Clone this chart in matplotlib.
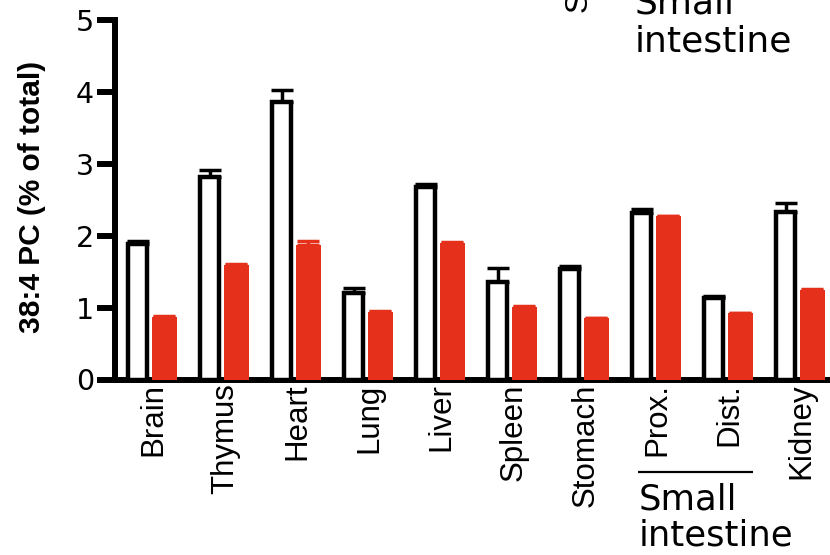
import numpy as np
import matplotlib
matplotlib.use("Agg")
import matplotlib.pyplot as plt
from matplotlib import font_manager
from matplotlib.transforms import offset_copy

# ---------------- data ----------------
categories = ["Brain", "Thymus", "Heart", "Lung", "Liver", "Spleen",
              "Stomach", "Prox.", "Dist.", "Kidney"]
control = [1.89, 2.82, 3.86, 1.21, 2.68, 1.36, 1.54, 2.31, 1.13, 2.33]
control_err = [0.03, 0.09, 0.17, 0.06, 0.04, 0.19, 0.04, 0.06, 0.03, 0.12]
treated = [0.87, 1.59, 1.87, 0.94, 1.90, 1.01, 0.85, 2.27, 0.92, 1.25]
treated_err = [0.01, 0.01, 0.06, 0.01, 0.01, 0.01, 0.01, 0.01, 0.01, 0.01]
yticks = [0, 1, 2, 3, 4, 5]
ylabel = "38:4 PC (% of total)"
group_words = ["Small", "intestine"]
top_fragment = "S"

RED = "#E5301C"

names = {f.name for f in font_manager.fontManager.ttflist}
narrow = "Liberation Sans Narrow" in names
rot_family = "Liberation Sans Narrow" if narrow else "Liberation Sans"
tick_size = 27.5 if narrow else 22.5
ylab_size = 25 if narrow else 21.5
hfam = "DejaVu Sans"

fig = plt.figure(figsize=(8.3, 5.55), dpi=100)
ax = fig.add_axes([115 / 830, 1 - 379.5 / 555, 1 - 115 / 830, (379.5 - 20) / 555])

n = len(categories)
x = np.arange(n)

ax.errorbar(x - 0.19, control, yerr=[np.zeros(n), control_err], fmt="none",
            ecolor="black", elinewidth=2.5, capsize=8, capthick=2.5, zorder=2)
ax.errorbar(x + 0.18, treated, yerr=[np.zeros(n), treated_err], fmt="none",
            ecolor=RED, elinewidth=2.5, capsize=8, capthick=2.5, zorder=2)
ax.bar(x - 0.19, control, width=0.265, color="white", edgecolor="black",
       linewidth=3.2, zorder=3)
ax.bar(x + 0.18, treated, width=0.345, color=RED, edgecolor="none", zorder=3)

ax.set_xlim(-(151.5 - 115) / 72, (830 - 151.5) / 72)
ax.set_ylim(0, 5)
for s in ["top", "right"]:
    ax.spines[s].set_visible(False)
for s in ["left", "bottom"]:
    ax.spines[s].set_linewidth(4.3)

ax.set_yticks(yticks)
ax.set_yticklabels([str(t) for t in yticks], fontfamily=hfam)
ax.tick_params(axis="y", length=13, width=4.3, pad=2, labelsize=20.5,
               direction="out")
ax.set_xticks([])

lab_tr = offset_copy(ax.transData, fig=fig, x=10, y=-4, units="dots")
for i, lab in enumerate(categories):
    ax.text(i, 0, lab, rotation=90, rotation_mode="anchor", ha="right",
            va="baseline", transform=lab_tr, fontsize=tick_size,
            family=rot_family, clip_on=False)

# bracket under Prox./Dist.
ax.plot([7 - 0.24, 8 + 0.35], [-1.29, -1.29], color="black", lw=1.6,
        clip_on=False, solid_capstyle="butt")
ax.text(7 - 0.24, -(510 - 379.5) / 72, group_words[0], ha="left",
        va="baseline", fontsize=25.5, family=hfam, clip_on=False)
ax.text(7 - 0.24, -(546 - 379.5) / 72, group_words[1], ha="left",
        va="baseline", fontsize=25.5, family=hfam, clip_on=False)

# y label
fig.text(32 / 830, 1 - 196.5 / 555, ylabel, rotation=90, ha="center",
         va="center", fontweight="bold", fontsize=ylab_size, family=rot_family)

# fragments from the panel above (clipped at top, as in the reference)
fig.text(635 / 830, 1 - 13 / 555, group_words[0], ha="left", va="baseline",
         fontsize=26, family=hfam)
fig.text(635 / 830, 1 - 52 / 555, group_words[1], ha="left", va="baseline",
         fontsize=26, family=hfam)
fig.text(579 / 830, 1 - 12 / 555, top_fragment, rotation=90, ha="center",
         va="bottom", fontsize=tick_size, family=rot_family)

fig.savefig("out.png", dpi=100)
